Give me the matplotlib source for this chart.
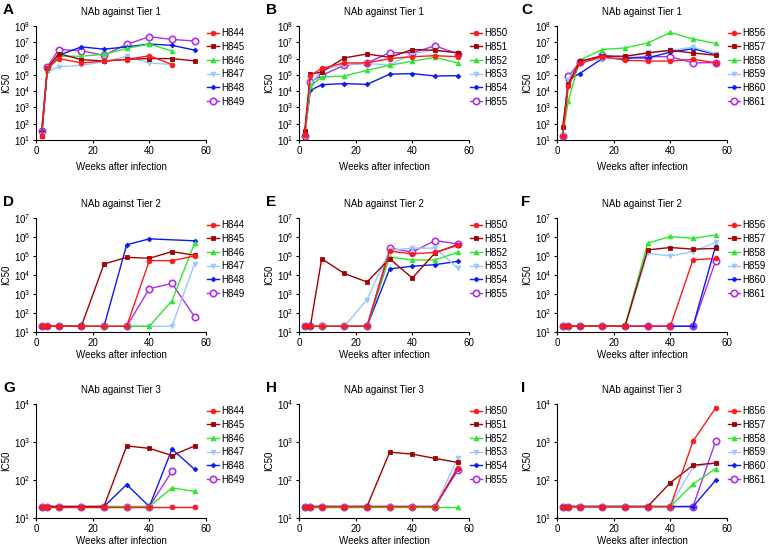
import numpy as np
import matplotlib
matplotlib.use("Agg")
import matplotlib.pyplot as plt
from matplotlib.ticker import FixedLocator, FuncFormatter, NullLocator

plt.rcParams["font.family"] = ["Liberation Sans", "DejaVu Sans"]
plt.rcParams["mathtext.default"] = "regular"

nan = np.nan
WEEKS = [2, 4, 8, 16, 24, 32, 40, 48, 56]

# Tier 1 (IC50)
A_IDS = ["H844", "H845", "H846", "H847", "H848", "H849"]
A_VALUES = [
    [18, 2.5e5, 1e6, 5.4e5, 7e5, 8.7e5, 1.5e6, 4.3e5, nan],
    [18, 2.5e5, 2e6, 8.7e5, 7e5, 9e5, 1e6, 1e6, 7.2e5],
    [20, 2e5, 1.4e6, 1.4e6, 1.8e6, 4.2e6, 7.8e6, 2.9e6, nan],
    [20, 1.5e5, 3.1e5, 3.9e5, 6.3e5, 1.4e6, 5.4e5, 4.3e5, nan],
    [38, 1.9e5, 1.6e6, 5.2e6, 3.8e6, 5.2e6, 7.8e6, 6.5e6, 3.3e6],
    [38, 3.1e5, 3.6e6, 3e6, 1.6e6, 7.4e6, 2.2e7, 1.5e7, 1.2e7],
]
B_IDS = ["H850", "H851", "H852", "H853", "H854", "H855"]
B_VALUES = [
    [20, 9e4, 2.5e5, 5.4e5, 5.4e5, 1e6, 1.3e6, 1.5e6, 1.3e6],
    [35, 1.1e5, 1.5e5, 1.1e6, 1.9e6, 1.2e6, 3.6e6, 3.2e6, 2.3e6],
    [20, 2e4, 7.4e4, 8.5e4, 1.9e5, 3.9e5, 6.9e5, 1.2e6, 5.4e5],
    [20, 2.5e4, 2e5, 4.3e5, 5e5, 4e5, 2e6, 3.6e6, 2e6],
    [20, 1.1e4, 2.5e4, 2.9e4, 2.6e4, 1.1e5, 1.2e5, 8.5e4, 8.9e4],
    [18, 3.6e4, 9.3e4, 3.9e5, 5.4e5, 2.3e6, 2.3e6, 6e6, 2e6],
]
C_IDS = ["H856", "H857", "H858", "H859", "H860", "H861"]
C_VALUES = [
    [18, 2e4, 5e5, 1.3e6, 8e5, 7e5, 7e5, 9e5, 5.6e5],
    [65, 2.8e4, 7e5, 1.4e6, 1.4e6, 2.2e6, 3.2e6, 2.2e6, 1.6e6],
    [20, 2.5e3, 8e5, 3.6e6, 4.5e6, 9e6, 4e7, 1.6e7, 8.5e6],
    [20, 5e4, 6e5, 1e6, 1.2e6, 2.5e6, 3.2e6, 5e6, 2e6],
    [20, 5e4, 1.2e5, 1e6, 1.1e6, 1.1e6, 2.5e6, 4e6, 1.8e6],
    [18, 8e4, 6e5, 1.6e6, 1.1e6, 1.3e6, 1.3e6, 5.5e5, 5.6e5],
]

# Tier 2
D_VALUES = [
    [20, 20, 20, 20, 20, 20, 5.7e4, 5.7e4, 1e5],
    [20, 20, 20, 20, 3.8e4, 8.5e4, 7.6e4, 1.7e5, 1.1e5],
    [20, 20, 20, 20, 20, 20, 20, 4.4e2, 4.8e5],
    [20, 20, 20, 20, 20, 20, 20, 20, 4e4],
    [20, 20, 20, 20, 20, 3.9e5, 8e5, nan, 6.3e5],
    [20, 20, 20, 20, 20, 20, 1.9e3, 3.6e3, 62],
]
E_VALUES = [
    [20, 20, 20, 20, 20, 1.8e5, 1.3e5, 1.55e5, 3.6e5],
    [20, 20, 7.2e4, 1.2e4, 4.3e3, 7.2e4, 6.9e3, 1.45e5, 4e5],
    [20, 20, 20, 20, 20, 8.9e4, 6.2e4, 6.2e4, 1.55e5],
    [20, 20, 20, 20, 5e2, 2e5, 2.6e5, 2.6e5, 2.3e4],
    [20, 20, 20, 20, 20, 2.1e4, 2.9e4, 3.5e4, 5.2e4],
    [20, 20, 20, 20, 20, 2.6e5, 1.6e5, 6.5e5, 4.3e5],
]
F_VALUES = [
    [20, 20, 20, 20, 20, 20, 20, 6.3e4, 7.4e4],
    [20, 20, 20, 20, 20, 2.1e5, 2.8e5, 2.3e5, 2.5e5],
    [20, 20, 20, 20, 20, 4.8e5, 1.07e6, 8.5e5, 1.26e6],
    [20, 20, 20, 20, 20, 1.4e5, 1e5, 1.7e5, 5.2e5],
    [20, 20, 20, 20, 20, 20, 20, 20, 3.5e5],
    [20, 20, 20, 20, 20, 20, 20, 20, 5.6e4],
]

# Tier 3
G_VALUES = [
    [20, 20, 20, 20, 20, 20, 20, 20, 20],
    [20, 20, 20, 20, 20, 790, 680, 440, 790],
    [20, 20, 20, 20, 20, 20, 20, 62, 50],
    [20, 20, 20, 20, 20, 20, 20, 20, 20],
    [20, 20, 20, 20, 20, 76, 20, 650, 190],
    [20, 20, 20, 20, 20, 20, 20, 170, nan],
]
H_VALUES = [
    [20, 20, 20, 20, 20, 20, 20, 20, 210],
    [20, 20, 20, 20, 20, 540, 480, 370, 290],
    [20, 20, 20, 20, 20, 20, 20, 20, 20],
    [20, 20, 20, 20, 20, 20, 20, 20, 370],
    [20, 20, 20, 20, 20, 20, 20, 20, 200],
    [20, 20, 20, 20, 20, 20, 20, 20, 180],
]
I_VALUES = [
    [20, 20, 20, 20, 20, 20, 20, 1050, 7900],
    [20, 20, 20, 20, 20, 20, 85, 245, 280],
    [20, 20, 20, 20, 20, 20, 20, 78, 200],
    [20, 20, 20, 20, 20, 20, 20, 225, 275],
    [20, 20, 20, 20, 20, 20, 20, 20, 98],
    [20, 20, 20, 20, 20, 20, 20, 20, 1050],
]

COLORS = ["#FF1A1A", "#A30000", "#2EE62E", "#99C7FF", "#0A1AF5", "#B02EE6"]
MARKERS = ["o", "s", "^", "v", "D", "o"]
MSIZES = [3.4, 3.2, 3.4, 3.4, 2.4, 4.6]
FS = 7

# letter, title, ids, values, top decade, col, row
PANELS = [
    ("A", "NAb against Tier 1", A_IDS, A_VALUES, 8, 0, 0),
    ("B", "NAb against Tier 1", B_IDS, B_VALUES, 8, 1, 0),
    ("C", "NAb against Tier 1", C_IDS, C_VALUES, 8, 2, 0),
    ("D", "NAb against Tier 2", A_IDS, D_VALUES, 7, 0, 1),
    ("E", "NAb against Tier 2", B_IDS, E_VALUES, 7, 1, 1),
    ("F", "NAb against Tier 2", C_IDS, F_VALUES, 7, 2, 1),
    ("G", "NAb against Tier 3", A_IDS, G_VALUES, 4, 0, 2),
    ("H", "NAb against Tier 3", B_IDS, H_VALUES, 4, 1, 2),
    ("I", "NAb against Tier 3", C_IDS, I_VALUES, 4, 2, 2),
]

W, H = 768, 552
COL_LEFT = [36, 299, 557]
ROW_TOP = [26, 218, 404]
LETTER_X = [3, 266, 521]
AX_W, AX_H = 170, 114

fig = plt.figure(figsize=(W / 100, H / 100), dpi=100)
weeks = np.array(WEEKS)

for letter, title, ids, values, top, col, row in PANELS:
    left = COL_LEFT[col] / W
    bottom = 1 - (ROW_TOP[row] + AX_H) / H
    ax = fig.add_axes([left, bottom, AX_W / W, AX_H / H])
    for i in reversed(range(len(ids))):
        v = np.array(values[i], dtype=float)
        ok = np.isfinite(v)
        face = "white" if i == 5 else COLORS[i]
        ax.plot(weeks[ok], v[ok], color=COLORS[i], marker=MARKERS[i],
                markersize=MSIZES[i], markerfacecolor=face,
                markeredgewidth=1.2 if i == 5 else 0.6,
                linewidth=1.0, label=ids[i], zorder=10 - i, clip_on=False)
    ax.set_yscale("log")
    ax.set_ylim(10, 10 ** top)
    ax.set_xlim(0, 60)
    ax.yaxis.set_major_locator(FixedLocator([10.0 ** k for k in range(1, top + 1)]))
    ax.yaxis.set_minor_locator(NullLocator())
    ax.yaxis.set_major_formatter(FuncFormatter(lambda y, p: r"$10^{%d}$" % round(np.log10(y))))
    ax.set_xticks([0, 20, 40, 60])
    ax.tick_params(labelsize=FS, length=2.5, width=0.8, pad=1.5)
    for s in ("top", "right"):
        ax.spines[s].set_visible(False)
    for s in ("left", "bottom"):
        ax.spines[s].set_linewidth(0.8)
    ax.set_title(title, fontsize=FS, pad=8)
    ax.set_ylabel("IC50", fontsize=FS, labelpad=2)
    ax.set_xlabel("Weeks after infection", fontsize=FS, labelpad=5 if row == 0 else 2)
    handles, labels = ax.get_legend_handles_labels()
    ax.legend(handles[::-1], labels[::-1], loc="upper left",
              bbox_to_anchor=(1.0, 0.99), frameon=False, fontsize=FS,
              handlelength=1.2, handletextpad=0.25, labelspacing=0.38,
              borderaxespad=0.1, borderpad=0.0)
    fig.text(LETTER_X[col] / W, 1 - (ROW_TOP[row] - 16) / H, letter,
             fontsize=11, fontweight="bold", va="center", ha="left")

fig.savefig("out.png", dpi=100)
